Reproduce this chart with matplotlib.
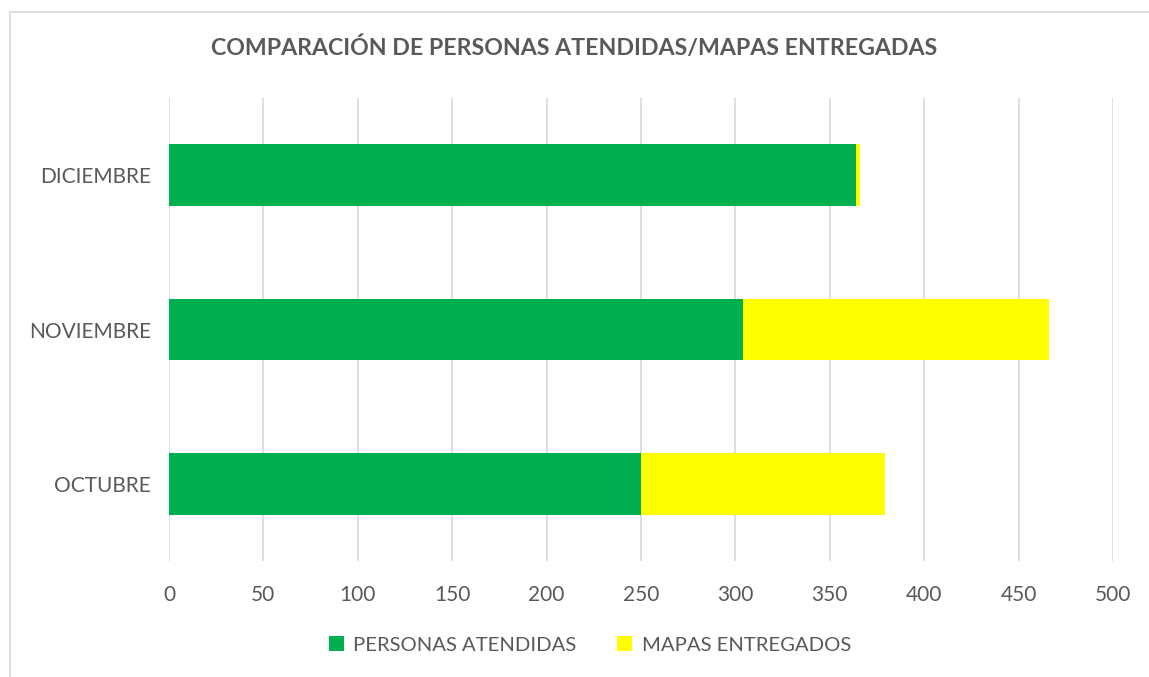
import matplotlib
matplotlib.use("Agg")
import matplotlib.pyplot as plt
from matplotlib.patches import Rectangle, Patch

months = ["OCTUBRE", "NOVIEMBRE", "DICIEMBRE"]
personas = [250, 304, 364]
mapas = [129, 162, 2]
xticks = [0, 50, 100, 150, 200, 250, 300, 350, 400, 450, 500]

GREEN = "#00B050"
YELLOW = "#FFFF00"
TXT = "#595959"
GRID = "#D9D9D9"

plt.rcParams['font.family'] = ['Lato', 'DejaVu Sans']

W, H = 1149, 677
fig = plt.figure(figsize=(W/100, H/100), dpi=100)
fig.patch.set_facecolor("white")

# chart frame (only left and top edges visible)
fig.patches.append(Rectangle((10/W, -0.2), 1.2, 1.2 - 12/H, transform=fig.transFigure,
                             fill=False, edgecolor="#D9D9D9", linewidth=1.2))

left, right = 169/W, 1113/W
top, bottom = 1 - 98/H, 1 - 561/H
ax = fig.add_axes([left, bottom, right - left, top - bottom])

y = list(range(len(months)))
ax.barh(y, personas, height=0.4, color=GREEN, label="PERSONAS ATENDIDAS", zorder=3)
ax.barh(y, mapas, left=personas, height=0.4, color=YELLOW, label="MAPAS ENTREGADOS", zorder=3)

ax.set_xlim(0, 500)
ax.set_ylim(-0.5, 2.5)
ax.set_xticks(xticks)
ax.set_xticklabels([str(v) for v in xticks])
ax.set_yticks(y)
ax.set_yticklabels(months)
ax.grid(axis="x", color=GRID, linewidth=1.2, zorder=0)
for s in ax.spines.values():
    s.set_visible(False)
ax.tick_params(axis="both", length=0, labelsize=15, colors=TXT)
ax.tick_params(axis="x", pad=17)
ax.tick_params(axis="y", pad=13)

fig.text(0.5, 1 - 48/H, "COMPARACIÓN DE PERSONAS ATENDIDAS/MAPAS ENTREGADAS",
         ha="center", va="center", fontsize=16.7, fontweight="bold", color=TXT)

handles = [Patch(facecolor=GREEN), Patch(facecolor=YELLOW)]
fig.legend(handles, ["PERSONAS ATENDIDAS", "MAPAS ENTREGADOS"], loc="center",
           bbox_to_anchor=(590/W, 1 - 645/H), ncol=2, frameon=False,
           fontsize=14.6, labelcolor=TXT, handlelength=0.75, handleheight=0.75,
           columnspacing=2.0, handletextpad=0.45)

fig.savefig("out.png", dpi=100, facecolor="white")
